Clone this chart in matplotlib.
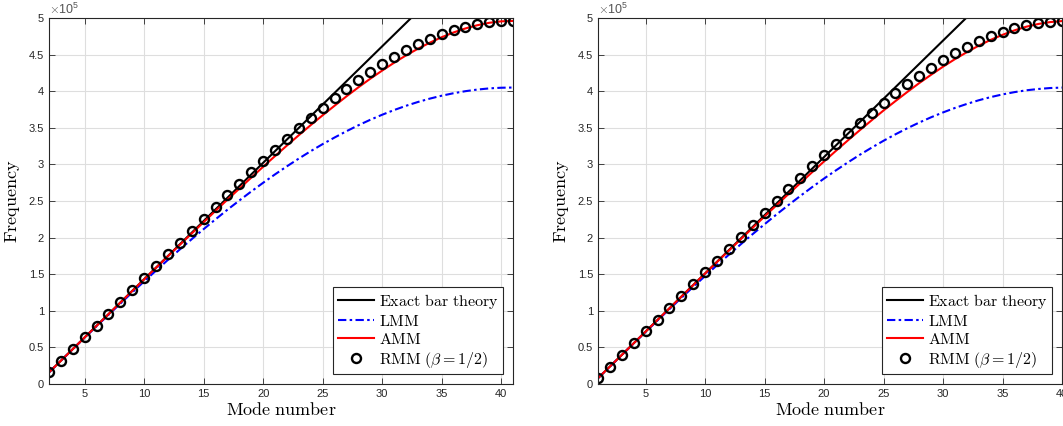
import numpy as np
import matplotlib.pyplot as plt
from matplotlib.ticker import FuncFormatter

plt.rcParams['font.family'] = ['Liberation Sans', 'DejaVu Sans']
plt.rcParams['mathtext.fontset'] = 'cm'

# left panel: modes 2..41 (values in units of 1e5)
modes_a = list(range(2, 42))
exact_modes_a = [2, 41]
exact_a = [0.159, 6.362]
lmm_a = [0.159, 0.318, 0.476, 0.634, 0.790, 0.945, 1.099, 1.252, 1.402, 1.550,
         1.696, 1.839, 1.979, 2.116, 2.250, 2.381, 2.507, 2.630, 2.749, 2.864,
         2.974, 3.080, 3.181, 3.277, 3.367, 3.453, 3.534, 3.609, 3.678, 3.742,
         3.800, 3.852, 3.898, 3.938, 3.972, 4.000, 4.022, 4.038, 4.047, 4.050]
amm_a = [0.159, 0.318, 0.477, 0.637, 0.795, 0.954, 1.113, 1.272, 1.431, 1.589,
         1.746, 1.902, 2.057, 2.211, 2.366, 2.519, 2.669, 2.819, 2.968, 3.114,
         3.258, 3.399, 3.537, 3.671, 3.801, 3.929, 4.052, 4.170, 4.281, 4.388,
         4.488, 4.579, 4.662, 4.737, 4.802, 4.857, 4.901, 4.934, 4.954, 4.960]
rmm_a = [0.159, 0.318, 0.478, 0.638, 0.797, 0.958, 1.119, 1.282, 1.443, 1.606,
         1.769, 1.931, 2.094, 2.256, 2.417, 2.578, 2.737, 2.894, 3.049, 3.202,
         3.351, 3.497, 3.639, 3.775, 3.906, 4.032, 4.152, 4.266, 4.371, 4.470,
         4.560, 4.642, 4.715, 4.779, 4.834, 4.879, 4.915, 4.940, 4.955, 4.960]

# right panel: modes 1..40
modes_b = list(range(1, 41))
exact_modes_b = [1, 40]
exact_b = [0.0795, 6.282]
lmm_b = [0.080, 0.238, 0.397, 0.555, 0.712, 0.868, 1.023, 1.176, 1.327, 1.476,
         1.623, 1.767, 1.909, 2.048, 2.183, 2.316, 2.444, 2.569, 2.690, 2.807,
         2.919, 3.027, 3.131, 3.229, 3.323, 3.411, 3.494, 3.572, 3.644, 3.710,
         3.771, 3.826, 3.876, 3.919, 3.956, 3.987, 4.012, 4.030, 4.043, 4.049]
amm_b = [0.080, 0.239, 0.398, 0.557, 0.716, 0.875, 1.034, 1.193, 1.351, 1.510,
         1.667, 1.823, 1.979, 2.134, 2.289, 2.442, 2.594, 2.744, 2.894, 3.041,
         3.186, 3.328, 3.467, 3.603, 3.737, 3.865, 3.990, 4.111, 4.225, 4.335,
         4.438, 4.533, 4.622, 4.701, 4.770, 4.831, 4.881, 4.918, 4.944, 4.958]
rmm_b = [0.080, 0.239, 0.398, 0.558, 0.718, 0.878, 1.039, 1.200, 1.362, 1.524,
         1.687, 1.850, 2.012, 2.175, 2.337, 2.498, 2.658, 2.816, 2.972, 3.126,
         3.277, 3.424, 3.568, 3.707, 3.841, 3.970, 4.093, 4.209, 4.319, 4.421,
         4.515, 4.602, 4.679, 4.748, 4.808, 4.858, 4.898, 4.928, 4.949, 4.959]

x_ticks = [5, 10, 15, 20, 25, 30, 35, 40]
y_ticks = [0, 0.5, 1, 1.5, 2, 2.5, 3, 3.5, 4, 4.5, 5]
dark = '#262626'


def draw(ax, modes, ex_modes, ex, lmm, amm, rmm, xlim):
    sc = 1e5
    ax.plot(ex_modes, np.array(ex) * sc, color='black', lw=1.5,
            label=r'$\mathrm{Exact\ bar\ theory}$')
    ax.plot(modes, np.array(lmm) * sc, color='blue', lw=1.5,
            linestyle=(0, (4, 1.6, 1.2, 1.6)), label=r'$\mathrm{LMM}$')
    ax.plot(modes, np.array(amm) * sc, color='red', lw=1.5,
            label=r'$\mathrm{AMM}$')
    ax.plot(modes, np.array(rmm) * sc, linestyle='none', marker='o', ms=6.5,
            mfc='none', mec='black', mew=1.7,
            label=r'$\mathrm{RMM}\ (\beta=1/2)$')
    ax.set_xlim(*xlim)
    ax.set_ylim(0, 5e5)
    ax.set_xticks(x_ticks)
    ax.set_yticks([v * sc for v in y_ticks])
    ax.yaxis.set_major_formatter(FuncFormatter(lambda v, p: '%g' % (v / sc)))
    ax.grid(True, color='#dedede', lw=0.8)
    ax.set_axisbelow(True)
    ax.tick_params(direction='in', top=True, right=True, length=4,
                   width=0.6, labelsize=8, colors=dark, labelcolor=dark)
    for s in ax.spines.values():
        s.set_color(dark)
        s.set_linewidth(0.8)
    ax.set_xlabel(r'$\mathrm{Mode\ number}$', fontsize=13, labelpad=2)
    ax.set_ylabel(r'$\mathrm{Frequency}$', fontsize=13, labelpad=5)
    ax.text(0.0, 1.004, r'$\times\mathregular{10^{5}}$', transform=ax.transAxes,
            fontsize=9, color='#555555', va='bottom', ha='left')
    leg = ax.legend(loc='lower right', fontsize=11.5, frameon=True, fancybox=False,
                    framealpha=1, edgecolor=dark, borderaxespad=0.6,
                    handlelength=2.3, handletextpad=0.3, labelspacing=0.18,
                    borderpad=0.3)
    leg.get_frame().set_linewidth(0.8)


fig = plt.figure(figsize=(10.63, 4.26), dpi=100)
ax1 = fig.add_axes([0.0461, 0.0986, 0.4365, 0.8592])
ax2 = fig.add_axes([0.5626, 0.0986, 0.4365, 0.8592])
draw(ax1, modes_a, exact_modes_a, exact_a, lmm_a, amm_a, rmm_a, (2, 41))
draw(ax2, modes_b, exact_modes_b, exact_b, lmm_b, amm_b, rmm_b, (1, 40))

fig.savefig('out.png', dpi=100)
